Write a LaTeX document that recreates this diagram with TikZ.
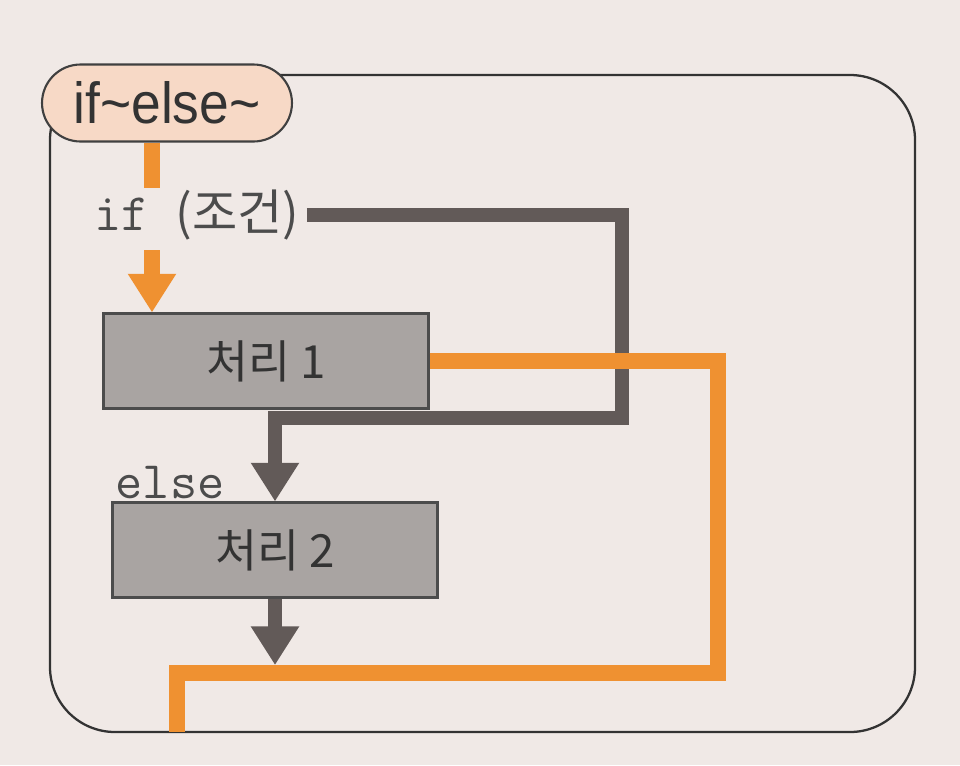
\documentclass[tikz,border=0pt]{standalone}
\usepackage{fontspec}
\setmainfont{Liberation Sans}
\newfontfamily\kr{Noto Sans CJK KR}
\newfontfamily\pillfont[FakeStretch=0.92]{Liberation Sans}
\usetikzlibrary{arrows.meta}
\definecolor{paper}{HTML}{F0E9E6}
\definecolor{org}{HTML}{EF9131}
\definecolor{dgray}{HTML}{625A58}
\definecolor{boxgray}{HTML}{A9A4A2}
\definecolor{peach}{HTML}{F7D9C6}
\tikzset{>={Triangle[width=26pt,length=22pt]}}
\tikzset{oline/.style={draw=org,line width=9pt}}
\tikzset{gline/.style={draw=dgray,line width=8.5pt}}
\tikzset{proc/.style={draw=black!70,line width=1.2pt,fill=boxgray,minimum width=6.5cm,minimum height=1.9cm,font=\kr\fontsize{26}{30}\selectfont,text=black!80}}
\tikzset{code/.style={font=\ttfamily\fontsize{30}{34}\selectfont,text=black!70,inner sep=4pt}}
\tikzset{pill/.style={draw=black!75,line width=1.2pt,fill=peach,rounded corners=0.77cm,minimum width=5cm,minimum height=1.54cm,font=\pillfont\fontsize{33}{36}\selectfont,text=black!80}}

\begin{document}
\begin{tikzpicture}[x=0.02cm,y=-0.02cm]
  \useasboundingbox (0,0) rectangle (960,765);
  \fill[paper] (0,0) rectangle (960,765);
  \draw[black!80,line width=1.3pt,rounded corners=1.3cm] (50,75) rectangle (915,732);
  \node[pill] (title) at (167,103) {if\textasciitilde else\textasciitilde};
  \node[code] (cond) at (197,215) {if {\kr\fontsize{28}{32}\selectfont (조건)}};
  \node[proc] (p1) at (266,361) {처리 1};
  \node[code] (else) at (170,483) {else};
  \node[proc] (p2) at (275,550) {처리 2};
  \coordinate (a) at (152,188);
  \coordinate (b) at (152,250);
  \coordinate (g1) at (622,418);
  \coordinate (o1) at (718,673);
  \coordinate (o2) at (177,732);
  \draw[gline,->] (cond.east) -| (g1) -| (p2.north);
  \draw[gline,->,shorten >=4.5pt] (p2.south) -- (p2.south |- o1);
  \draw[oline] (title.south -| a) -- (a);
  \draw[oline,->] (b) -- (b |- p1.north);
  \draw[oline] (p1.east) -| (o1) -| (o2);
\end{tikzpicture}
\end{document}
